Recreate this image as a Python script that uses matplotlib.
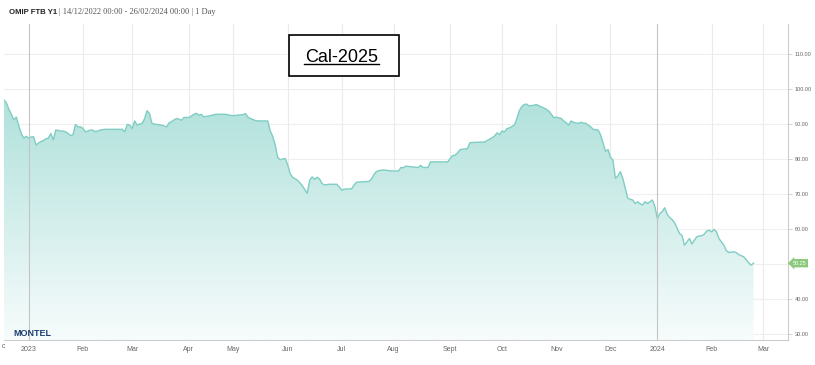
import numpy as np
import pandas as pd
import matplotlib
matplotlib.use('Agg')
import matplotlib.pyplot as plt
from matplotlib.colors import LinearSegmentedColormap
from matplotlib.lines import Line2D
from matplotlib.patches import Rectangle

# exchange holidays (ordinal axis skips weekends + these)
holidays = ['2022-12-26', '2023-04-07', '2023-04-10', '2023-05-01',
            '2023-12-25', '2023-12-26', '2024-01-01']

dates = [
    '2022-12-16', '2022-12-19', '2022-12-20', '2022-12-21', '2022-12-22', '2022-12-23', '2022-12-27', '2022-12-28', '2022-12-29', '2022-12-30',
    '2023-01-02', '2023-01-03', '2023-01-04', '2023-01-05', '2023-01-06', '2023-01-09', '2023-01-10', '2023-01-11', '2023-01-12', '2023-01-13',
    '2023-01-16', '2023-01-17', '2023-01-18', '2023-01-19', '2023-01-20', '2023-01-23', '2023-01-24', '2023-01-25', '2023-01-26', '2023-01-27',
    '2023-01-30', '2023-01-31',
    '2023-02-01', '2023-02-02', '2023-02-03', '2023-02-06', '2023-02-07', '2023-02-08', '2023-02-09', '2023-02-10', '2023-02-13', '2023-02-14',
    '2023-02-17', '2023-02-23', '2023-02-24', '2023-02-27', '2023-02-28',
    '2023-03-01', '2023-03-02', '2023-03-03', '2023-03-06', '2023-03-07', '2023-03-08', '2023-03-09', '2023-03-10', '2023-03-13', '2023-03-14',
    '2023-03-15', '2023-03-16', '2023-03-17', '2023-03-20', '2023-03-21', '2023-03-22', '2023-03-23', '2023-03-24', '2023-03-27', '2023-03-28',
    '2023-03-29', '2023-03-30', '2023-03-31',
    '2023-04-03', '2023-04-04', '2023-04-05', '2023-04-06', '2023-04-11', '2023-04-12', '2023-04-13', '2023-04-14', '2023-04-17', '2023-04-20',
    '2023-04-26', '2023-04-27', '2023-04-28',
    '2023-05-02', '2023-05-03', '2023-05-08', '2023-05-09', '2023-05-10', '2023-05-11', '2023-05-12', '2023-05-15', '2023-05-16', '2023-05-22',
    '2023-05-23', '2023-05-24', '2023-05-25', '2023-05-26', '2023-05-29', '2023-05-30', '2023-05-31',
    '2023-06-01', '2023-06-02', '2023-06-05', '2023-06-06', '2023-06-07', '2023-06-08', '2023-06-09', '2023-06-12', '2023-06-13', '2023-06-14',
    '2023-06-15', '2023-06-16', '2023-06-19', '2023-06-20', '2023-06-21', '2023-06-22', '2023-06-23', '2023-06-26', '2023-06-29', '2023-06-30',
    '2023-07-03', '2023-07-04', '2023-07-07', '2023-07-10', '2023-07-11', '2023-07-18', '2023-07-19', '2023-07-20', '2023-07-21', '2023-07-24',
    '2023-07-26', '2023-07-28', '2023-07-31',
    '2023-08-03', '2023-08-04', '2023-08-07', '2023-08-08', '2023-08-10', '2023-08-15', '2023-08-16', '2023-08-17', '2023-08-21', '2023-08-22',
    '2023-08-31',
    '2023-09-01', '2023-09-04', '2023-09-05', '2023-09-06', '2023-09-07', '2023-09-12', '2023-09-13', '2023-09-21', '2023-09-22', '2023-09-25',
    '2023-09-26', '2023-09-27', '2023-09-28', '2023-09-29',
    '2023-10-02', '2023-10-03', '2023-10-04', '2023-10-05', '2023-10-06', '2023-10-09', '2023-10-10', '2023-10-11', '2023-10-12', '2023-10-13',
    '2023-10-16', '2023-10-17', '2023-10-18', '2023-10-19', '2023-10-20', '2023-10-23', '2023-10-24', '2023-10-25', '2023-10-26', '2023-10-27',
    '2023-10-30', '2023-10-31',
    '2023-11-01', '2023-11-02', '2023-11-03', '2023-11-06', '2023-11-07', '2023-11-08', '2023-11-09', '2023-11-10', '2023-11-13', '2023-11-14',
    '2023-11-15', '2023-11-16', '2023-11-17', '2023-11-20', '2023-11-21', '2023-11-22', '2023-11-23', '2023-11-24', '2023-11-27', '2023-11-28',
    '2023-11-29', '2023-11-30',
    '2023-12-01', '2023-12-04', '2023-12-05', '2023-12-06', '2023-12-07', '2023-12-08', '2023-12-11', '2023-12-12', '2023-12-13', '2023-12-14',
    '2023-12-15', '2023-12-18', '2023-12-19', '2023-12-20', '2023-12-21', '2023-12-22', '2023-12-27', '2023-12-28', '2023-12-29',
    '2024-01-02', '2024-01-03', '2024-01-04', '2024-01-05', '2024-01-08', '2024-01-09', '2024-01-10', '2024-01-11', '2024-01-12', '2024-01-15',
    '2024-01-16', '2024-01-17', '2024-01-18', '2024-01-19', '2024-01-22', '2024-01-23', '2024-01-24', '2024-01-25', '2024-01-26', '2024-01-29',
    '2024-01-30', '2024-01-31',
    '2024-02-01', '2024-02-02', '2024-02-05', '2024-02-06', '2024-02-07', '2024-02-08', '2024-02-09', '2024-02-12', '2024-02-13', '2024-02-14',
    '2024-02-15', '2024-02-16', '2024-02-19', '2024-02-20', '2024-02-21', '2024-02-22', '2024-02-23', '2024-02-26',
]

prices = [
    96.9, 96.0, 94.2, 92.8, 91.2, 92.0, 89.5, 87.3, 86.0, 86.5,
    86.0, 86.3, 86.4, 84.0, 84.6, 85.0, 85.3, 85.8, 86.0, 87.3,
    85.5, 88.3, 88.2, 88.0, 88.0, 87.8, 87.3, 86.7, 87.0, 89.9,
    89.2, 89.2,
    88.8, 87.8, 88.0, 88.3, 88.3, 87.8, 88.0, 88.3, 88.4, 88.5,
    88.5, 88.5, 87.8, 89.9, 89.7,
    88.7, 90.9, 89.7, 90.0, 90.2, 91.5, 93.8, 93.1, 90.2, 90.0,
    89.9, 89.8, 89.7, 89.4, 89.2, 90.4, 90.7, 91.2, 91.6, 91.4,
    91.1, 91.9, 91.9,
    91.9, 92.3, 92.8, 93.1, 92.5, 92.8, 92.1, 92.2, 92.3, 92.8,
    92.8, 92.6, 92.5,
    92.4, 92.5, 92.7, 93.0, 91.9, 91.6, 91.3, 91.0, 90.9, 90.9,
    88.0, 86.5, 84.0, 80.5, 79.8, 80.0, 80.2,
    78.5, 76.0, 74.8, 74.4, 74.0, 73.2, 72.4, 71.3, 70.2, 74.0,
    74.9, 74.2, 74.8, 74.3, 73.0, 72.6, 72.7, 72.8, 72.8, 72.0,
    71.1, 71.4, 71.5, 72.6, 73.4, 73.6, 74.2, 75.5, 76.4, 76.7,
    76.9, 76.7, 76.6,
    76.6, 77.6, 77.5, 78.0, 77.8, 77.6, 78.2, 77.6, 77.6, 79.2,
    79.2,
    80.2, 81.0, 81.1, 81.8, 82.7, 83.0, 84.7, 84.9, 85.3, 85.7,
    86.1, 86.6, 87.5, 87.0,
    88.0, 87.8, 88.7, 88.9, 89.3, 89.7, 91.5, 93.8, 95.0, 95.6,
    95.7, 95.2, 95.3, 95.4, 95.6, 95.2, 94.9, 94.6, 94.2, 93.7,
    92.8, 91.8,
    92.0, 91.8, 91.6, 90.9, 90.4, 89.7, 90.9, 90.5, 90.3, 90.2,
    90.5, 90.3, 90.2, 89.7, 89.2, 88.5, 88.4, 88.3, 86.9, 84.5,
    82.2, 82.7,
    80.5, 79.7, 74.5, 75.2, 76.4, 74.5, 71.6, 68.8, 68.5, 68.3,
    67.3, 67.8, 67.2, 66.9, 67.8, 67.3, 67.8, 68.3, 66.5,
    63.0, 64.4, 65.0, 66.1, 64.2, 63.3, 62.7, 61.8, 60.3, 58.7,
    58.2, 55.4, 56.3, 57.3, 55.7, 56.8, 57.8, 58.0, 58.1, 58.5,
    59.4, 59.7,
    59.2, 59.9, 59.2, 57.3, 56.3, 55.4, 53.8, 53.3, 53.4, 53.5,
    53.3, 52.7, 52.4, 52.1, 51.3, 50.4, 49.7, 50.25,
]

tick_months = ['2023-01', '2023-02', '2023-03', '2023-04', '2023-05', '2023-06', '2023-07', '2023-08',
               '2023-09', '2023-10', '2023-11', '2023-12', '2024-01', '2024-02', '2024-03']
tick_labels = ['2023', 'Feb', 'Mar', 'Apr', 'May', 'Jun', 'Jul', 'Aug',
               'Sept', 'Oct', 'Nov', 'Dec', '2024', 'Feb', 'Mar']
y_ticks = [30, 40, 50, 60, 70, 80, 90, 100, 110]

# ordinal (trading-day) axis like highstock
tdays = pd.bdate_range('2022-12-14', '2024-03-29', freq='C', holidays=holidays)
pos = tdays.get_indexer(pd.to_datetime(dates))
tick_pos = [tdays.searchsorted(pd.Timestamp(m + '-01')) for m in tick_months]

xmin, xmax = pos[0], pos[-1] + 14
ymin, ymax = 28.3, 118.6

fig = plt.figure(figsize=(8.15, 3.65), dpi=100)
ax = fig.add_axes([4/815, 25/365, 784/815, 316/365])

for v in y_ticks:
    ax.axhline(v, color='#efefef', lw=0.8, zorder=0)
for p, lab in zip(tick_pos, tick_labels):
    c = '#c4c4c4' if lab in ('2023', '2024') else '#ebebeb'
    ax.axvline(p, color=c, lw=0.8, zorder=0 if c == '#ebebeb' else 4)

fill = ax.fill_between(pos, prices, ymin, color='none', lw=0)
cmap = LinearSegmentedColormap.from_list('g', ['#f7fcfc', '#9ad9d1'])
grad = np.linspace(0, 1, 256).reshape(-1, 1)
im = ax.imshow(grad, cmap=cmap, aspect='auto', origin='lower',
               extent=[xmin, xmax, ymin, ymax], zorder=1)
im.set_clip_path(fill.get_paths()[0], transform=ax.transData)
ax.plot(pos, prices, color='#7fcdc3', lw=1.0, zorder=3)

ax.set_xlim(xmin, xmax)
ax.set_ylim(ymin, ymax)

ax.set_xticks(tick_pos)
ax.set_xticklabels(tick_labels)
ax.tick_params(axis='x', length=0, pad=4, labelsize=5, labelcolor='#666666')
ax.yaxis.tick_right()
ax.set_yticks(y_ticks)
# the 50 label is covered by the last-value tag
ax.set_yticklabels(['' if v == 50 else f'{v:.2f}' for v in y_ticks])
ax.tick_params(axis='y', length=3, width=0.6, color='#cccccc', pad=2,
               labelsize=4, labelcolor='#666666')
for lab in ax.get_xticklabels() + ax.get_yticklabels():
    lab.set_family('Liberation Sans')

for s in ['top', 'left']:
    ax.spines[s].set_visible(False)
for s in ['bottom', 'right']:
    ax.spines[s].set_color('#cccccc')
    ax.spines[s].set_linewidth(0.8)

# last value tag
ax.text(1.006, prices[-1], f'{prices[-1]:.2f}', transform=ax.get_yaxis_transform(),
        fontsize=4, color='white', va='center', ha='left', family='Liberation Sans',
        bbox=dict(boxstyle='larrow,pad=0.3', fc='#8cc97c', ec='none'), clip_on=False, zorder=6)

# header
fig.text(9/815, 1 - 12/365, 'OMIP FTB Y1', fontsize=5.6, fontweight='bold',
         family='Liberation Sans', va='center', color='#222222')
fig.text(59/815, 1 - 12/365, '| 14/12/2022 00:00 - 26/02/2024 00:00 | 1 Day',
         fontsize=6, family='Liberation Serif', va='center', color='#555555')
fig.text(3/815, 1 - 347/365, 'c', fontsize=5, family='Liberation Sans',
         va='center', ha='center', color='#666666')
fig.text(13/815, 1 - 334/365, 'MONTEL', fontsize=6.5, fontweight='bold',
         family='Liberation Sans', va='center', color='#1d3f72')

# Cal-2025 box
fig.patches.append(Rectangle((289/815, 1 - 76/365), 110/815, 41/365,
                             transform=fig.transFigure, fc='white', ec='black', lw=1.2, zorder=5))
fig.text(342/815, 1 - 61.7/365, 'Cal-2025', fontsize=13, family='Liberation Sans',
         ha='center', va='baseline', color='black', zorder=6)
fig.add_artist(Line2D([304/815, 379/815], [1 - 63.5/365, 1 - 63.5/365],
                      color='black', lw=1.0, zorder=6))

fig.savefig('out.png', dpi=100)
